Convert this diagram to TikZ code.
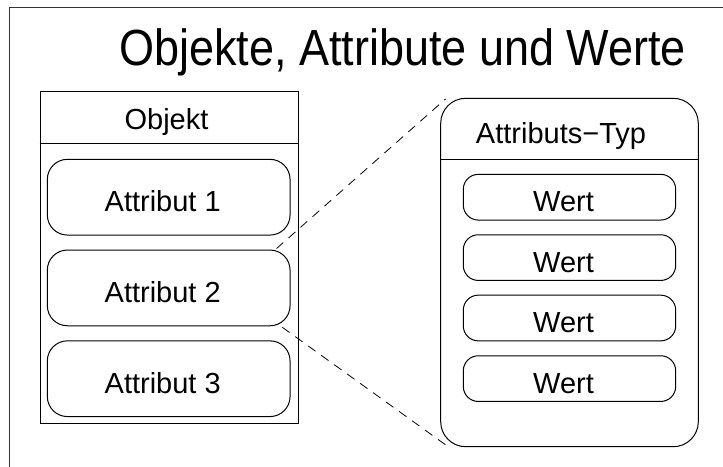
\documentclass[tikz,border=0pt]{standalone}
\usepackage{graphicx}
\usepackage{fontspec}
\setmainfont{Liberation Sans}
\usetikzlibrary{calc}
\begin{document}
\begin{tikzpicture}[x=1pt,y=-1pt,
  box/.style={draw, line width=1pt, inner sep=0pt},
  attrbox/.style={box, rounded corners=20pt, minimum width=242.7pt, minimum height=75.7pt},
  wertbox/.style={box, rounded corners=15pt, minimum width=212.4pt, minimum height=45.7pt},
  lbl/.style={anchor=base, inner sep=0pt, font=\fontsize{29}{34}\selectfont},
  conn/.style={line width=0.8pt, dash pattern=on 9pt off 7pt},
  frame/.style={draw=black!80, line width=1.4pt}]
\useasboundingbox (0,0) rectangle (723,466);
% frame
\coordinate (fbl) at (9.3,480);
\coordinate (ftl) at (9.3,7.3);
\coordinate (ftr) at (740,7.3);
\draw[frame] (fbl) -- (ftl) -- (ftr);
% title
\node[anchor=base, inner sep=0pt, font=\fontsize{45}{54}\selectfont] (title) at (402.5,65) {\scalebox{1}[1.13]{Objekte, Attribute und Werte}};
% object box
\node[box, minimum width=258pt, minimum height=332pt] (objekt) at (169,257) {};
\coordinate (h1) at (0,143);
\draw[line width=1pt] (objekt.west |- h1) -- (objekt.east |- h1);
\node[lbl] (objektlbl) at (166.5,129.3) {Objekt};
\node[attrbox] (a1) at (168.7,197.2) {};
\node[attrbox] (a2) at (168.7,287.9) {};
\node[attrbox] (a3) at (168.7,378.7) {};
\node[lbl] (a1t) at ($(a1.center)+(-6,14)$) {Attribut 1};
\node[lbl] (a2t) at ($(a2.center)+(-6,14.5)$) {Attribut 2};
\node[lbl] (a3t) at ($(a3.center)+(-6,14.5)$) {Attribut 3};
% attribute type box
\node[box, rounded corners=25pt, minimum width=257.6pt, minimum height=348.4pt] (typ) at (569.5,272.5) {};
\coordinate (h2) at (0,159.3);
\draw[line width=1pt] (typ.west |- h2) -- (typ.east |- h2);
\node[lbl] (typlbl) at (561,143.3) {Attributs−Typ};
\node[wertbox] (w1) at (569.5,197.2) {};
\node[wertbox] (w2) at (569.5,257.6) {};
\node[wertbox] (w3) at (569.5,318) {};
\node[wertbox] (w4) at (569.5,378.6) {};
\node[lbl] (w1t) at ($(w1.center)+(-6,14.5)$) {Wert};
\node[lbl] (w2t) at ($(w2.center)+(-6,14.5)$) {Wert};
\node[lbl] (w3t) at ($(w3.center)+(-6,14.5)$) {Wert};
\node[lbl] (w4t) at ($(w4.center)+(-6,14.5)$) {Wert};
% dashed connectors
\coordinate (u1) at ($(a2.north east)+(-14,-1)$);
\coordinate (u2) at ($(typ.north west)+(5.3,1.2)$);
\coordinate (l1) at ($(a2.south east)+(-8.3,1)$);
\coordinate (l2) at ($(typ.south west)+(6.3,-1.7)$);
\draw[conn] (u1) -- (u2);
\draw[conn] (l1) -- (l2);
\end{tikzpicture}
\end{document}
